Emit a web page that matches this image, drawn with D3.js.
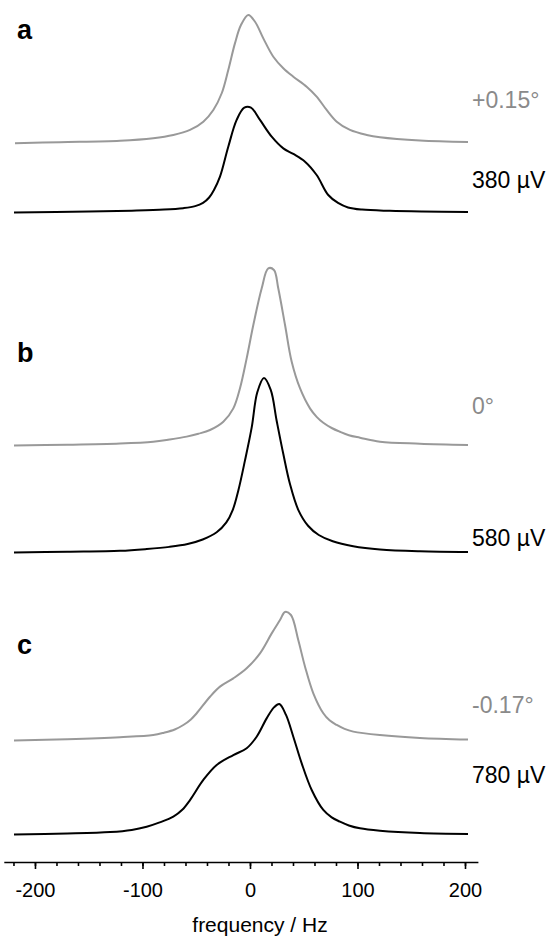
<!DOCTYPE html>
<html lang="en">
<head>
    <meta charset="UTF-8">
    <title>Spectra a-c</title>
    <script src="https://d3js.org/d3.v7.min.js"></script>
    <style>
        body { margin: 0; background: #fff; }
        text { font-family: Arial, "Liberation Sans", sans-serif; }
    </style>
</head>
<body>
<script>
// frequency (Hz) / intensity (a.u.) pairs
const grayA = [[-218.6,0.4],[-176.7,1.0],[-120.9,1.8],[-90.0,3.2],[-71.3,5.0],[-55.8,7.8],[-43.4,12.4],[-34.1,18.9],[-26.3,28.2],[-20.2,41.1],[-14.0,55.9],[-8.4,66.1],[-1.6,71.7],[4.7,67.9],[12.4,58.7],[21.7,48.5],[31.0,42.1],[40.3,37.4],[52.7,31.8],[62.0,26.3],[71.3,18.9],[80.7,12.4],[93.0,7.8],[108.6,5.0],[120.9,3.7],[158.1,1.9],[202.8,1.1]];
const blackA = [[-219.5,0.3],[-150,0.8],[-110,1.3],[-80,1.9],[-62,2.7],[-51,3.8],[-43.7,5.6],[-38,8.6],[-33.5,12.8],[-27.9,20.2],[-20.2,36.8],[-12.4,51.7],[-5.3,58.5],[0.9,58.5],[9.3,51.7],[20.2,42.4],[31.0,35.9],[40.3,32.8],[51.2,28.5],[62.0,21.1],[72.8,10.0],[81.9,5.6],[91.2,3.1],[104.2,1.9],[130,1.2],[160,0.8],[202.8,0.5]];
const grayB = [[-219.5,0.3],[-170,0.7],[-120.9,1.4],[-90,2.4],[-75,3.6],[-58.9,5.2],[-48,6.8],[-37.2,8.9],[-24.8,13.5],[-15.5,20.9],[-9.3,32.1],[-3.1,48.7],[3.1,67.2],[10.9,87.6],[17.0,98.7],[22.3,97.8],[26.3,87.6],[32.6,67.2],[38.8,46.8],[46.5,32.1],[55.8,20.9],[62,16.2],[68.2,12.9],[76,10.0],[83.7,7.9],[92,6.0],[102.3,4.6],[120.9,2.4],[158.1,1.3],[202.8,0.6]];
const blackB = [[-219.5,0.3],[-170,0.7],[-120.9,1.2],[-96,2.2],[-75,3.4],[-58,5.0],[-44,7.5],[-31,11.5],[-22,17.0],[-16,24.0],[-10.9,34.6],[-4.7,51.3],[1.6,69.8],[6.8,89.3],[13.0,97.2],[19.3,90.6],[24.8,73.5],[31.0,55.0],[37.2,38.3],[44.9,24.0],[54.2,15.0],[64,10.0],[77,6.5],[96,3.8],[120.9,2.0],[158.1,1.0],[202.8,0.6]];
const grayC = [[-219.5,0.3],[-170,1.0],[-120.9,2.1],[-90,3.3],[-80,4.6],[-70,6.4],[-62,8.9],[-55,12.0],[-49.6,15.4],[-37.2,24.6],[-27.9,30.2],[-15.5,34.8],[-3.1,40.4],[9.3,48.7],[20.2,59.8],[27.9,67.2],[32.6,71.7],[38.1,70.0],[44.9,56.1],[51.2,41.3],[58.9,26.5],[68.2,15.4],[74,11.5],[80.7,8.9],[88,6.7],[96.1,5.2],[120.9,3.3],[158.1,1.7],[202.8,0.8]];
const blackC = [[-219.5,0.3],[-170,0.8],[-130,1.6],[-110,2.8],[-96.1,4.6],[-84,7.0],[-71.3,10.2],[-63,14.0],[-55.8,19.4],[-43.4,30.6],[-31.0,38.9],[-15.5,44.4],[-3.1,48.2],[6.2,54.6],[15.5,64.8],[22.3,70.9],[27.3,72.8],[33.5,66.7],[40.3,54.6],[48.1,39.8],[57.4,25.0],[68.2,13.9],[76,9.8],[83.7,7.4],[92,5.3],[102.3,3.7],[120.9,2.4],[158.1,1.1],[202.8,0.6]];

const panelLetters = ["a", "b", "c"];
const angleLabels = ["+0.15°", "0°", "-0.17°"];
const voltageLabels = ["380 µV", "580 µV", "780 µV"];
const majorTicks = [-200, -100, 0, 100, 200];
const minorTicks = d3.range(-220, 201, 20);

const width = 553, height = 936;
const gray = "#999999", grayText = "#8a8a8a";

const svg = d3.select("body").append("svg")
    .attr("width", width)
    .attr("height", height);

const x = d3.scaleLinear().domain([-229, 212]).range([3.8, 477.9]);

// baseline (px) of every trace in the stack
const panels = [
    { letterY: 39, gray: grayA, grayBase: 144, black: blackA, blackBase: 213, angleY: 108, voltY: 188 },
    { letterY: 362, gray: grayB, grayBase: 446, black: blackB, blackBase: 553, angleY: 414, voltY: 546 },
    { letterY: 654, gray: grayC, grayBase: 741, black: blackC, blackBase: 835, angleY: 713, voltY: 783 }
];

function traceLine(base) {
    const y = d3.scaleLinear().domain([0, 100]).range([base, base - 180]);
    return d3.line()
        .x(d => x(d[0]))
        .y(d => y(d[1]))
        .curve(d3.curveCatmullRom.alpha(0.5));
}

panels.forEach((p, i) => {
    svg.append("path")
        .attr("d", traceLine(p.grayBase)(p.gray))
        .attr("fill", "none")
        .attr("stroke", gray)
        .attr("stroke-width", 2);

    svg.append("path")
        .attr("d", traceLine(p.blackBase)(p.black))
        .attr("fill", "none")
        .attr("stroke", "#000")
        .attr("stroke-width", 2);

    svg.append("text")
        .attr("x", 17)
        .attr("y", p.letterY)
        .attr("font-size", 27)
        .attr("font-weight", "bold")
        .text(panelLetters[i]);

    svg.append("text")
        .attr("x", 472)
        .attr("y", p.angleY)
        .attr("font-size", 23)
        .attr("fill", grayText)
        .text(angleLabels[i]);

    svg.append("text")
        .attr("x", 472)
        .attr("y", p.voltY)
        .attr("font-size", 23)
        .attr("fill", "#000")
        .text(voltageLabels[i]);
});

// frequency axis
const axisY = 862;
const axisG = svg.append("g")
    .attr("transform", `translate(0,${axisY})`)
    .call(d3.axisBottom(x).tickValues(majorTicks).tickFormat(d => String(d))
        .tickSize(7).tickSizeOuter(0).tickPadding(14));

axisG.select(".domain").attr("stroke-width", 1.6);
axisG.selectAll(".tick line").attr("stroke-width", 1.6);
axisG.selectAll(".tick text")
    .attr("font-size", 20)
    .attr("font-family", "Arial, 'Liberation Sans', sans-serif")
    .attr("fill", "#000");

svg.append("g")
    .attr("transform", `translate(0,${axisY})`)
    .call(d3.axisBottom(x).tickValues(minorTicks).tickSize(4).tickFormat(""))
    .call(g => g.select(".domain").remove())
    .selectAll(".tick line").attr("stroke-width", 1.6);

svg.append("text")
    .attr("x", 260)
    .attr("y", 932)
    .attr("text-anchor", "middle")
    .attr("font-size", 21)
    .text("frequency / Hz");
</script>
</body>
</html>
